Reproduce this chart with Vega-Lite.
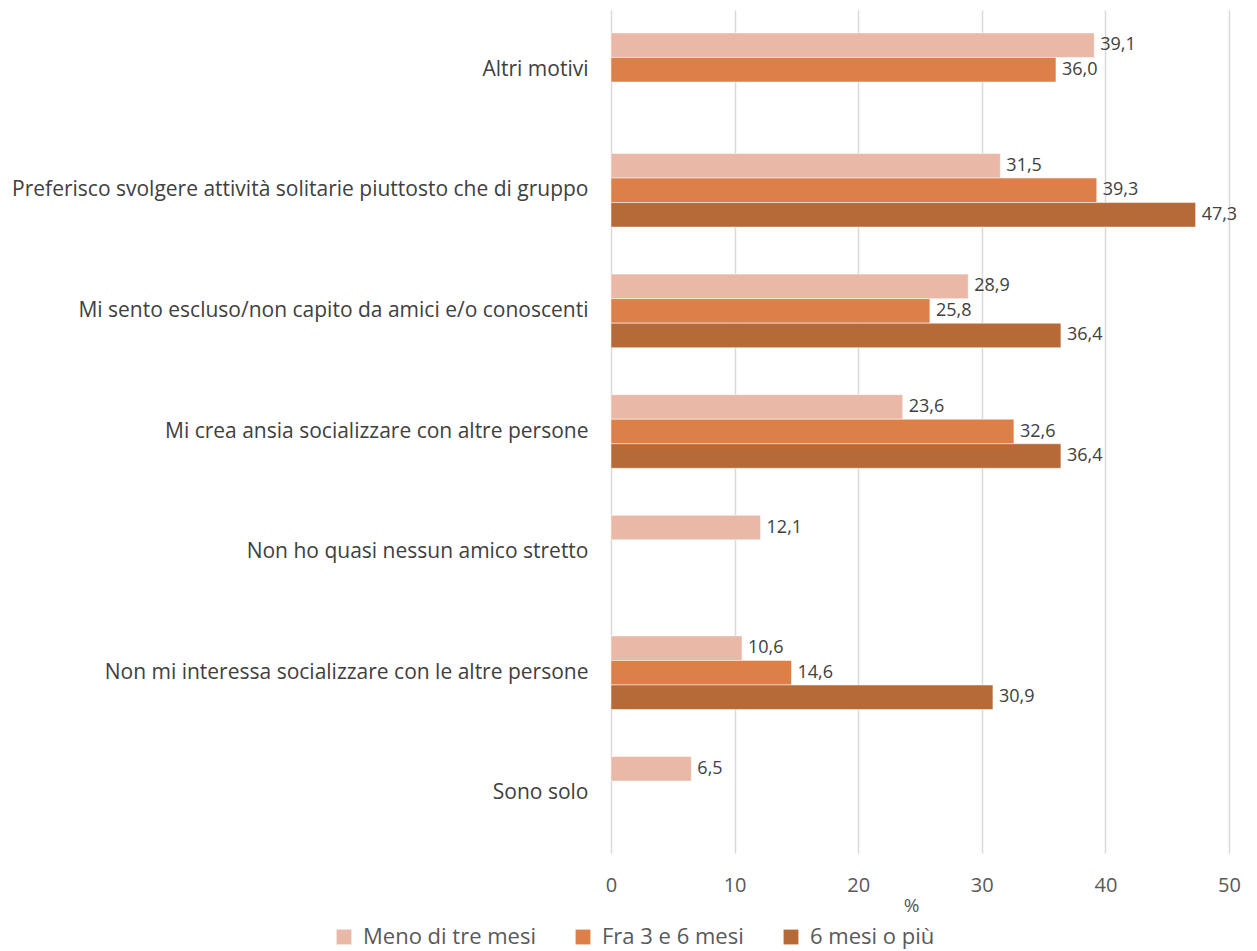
{
  "$schema": "https://vega.github.io/schema/vega-lite/v6.json",
  "width": 618,
  "height": 843,
  "autosize": {"type": "none"},
  "padding": {"left": 611, "top": 10, "right": 28, "bottom": 98},
  "background": "white",
  "config": {
    "view": {"stroke": null},
    "font": "Open Sans",
    "locale": {"number": {"decimal": ",", "thousands": ".", "grouping": [3], "currency": ["€", ""]}}
  },
  "data": {"values": [
    {"cat": "Altri motivi", "group": "Meno di tre mesi", "value": 39.1},
    {"cat": "Altri motivi", "group": "Fra 3 e 6 mesi", "value": 36.0},
    {"cat": "Preferisco svolgere attività solitarie piuttosto che di gruppo", "group": "Meno di tre mesi", "value": 31.5},
    {"cat": "Preferisco svolgere attività solitarie piuttosto che di gruppo", "group": "Fra 3 e 6 mesi", "value": 39.3},
    {"cat": "Preferisco svolgere attività solitarie piuttosto che di gruppo", "group": "6 mesi o più", "value": 47.3},
    {"cat": "Mi sento escluso/non capito da amici e/o conoscenti", "group": "Meno di tre mesi", "value": 28.9},
    {"cat": "Mi sento escluso/non capito da amici e/o conoscenti", "group": "Fra 3 e 6 mesi", "value": 25.8},
    {"cat": "Mi sento escluso/non capito da amici e/o conoscenti", "group": "6 mesi o più", "value": 36.4},
    {"cat": "Mi crea ansia socializzare con altre persone", "group": "Meno di tre mesi", "value": 23.6},
    {"cat": "Mi crea ansia socializzare con altre persone", "group": "Fra 3 e 6 mesi", "value": 32.6},
    {"cat": "Mi crea ansia socializzare con altre persone", "group": "6 mesi o più", "value": 36.4},
    {"cat": "Non ho quasi nessun amico stretto", "group": "Meno di tre mesi", "value": 12.1},
    {"cat": "Non mi interessa socializzare con le altre persone", "group": "Meno di tre mesi", "value": 10.6},
    {"cat": "Non mi interessa socializzare con le altre persone", "group": "Fra 3 e 6 mesi", "value": 14.6},
    {"cat": "Non mi interessa socializzare con le altre persone", "group": "6 mesi o più", "value": 30.9},
    {"cat": "Sono solo", "group": "Meno di tre mesi", "value": 6.5}
  ]},
  "encoding": {
    "y": {
      "field": "cat", "type": "nominal", "sort": null,
      "scale": {"domain": ["Altri motivi", "Preferisco svolgere attività solitarie piuttosto che di gruppo", "Mi sento escluso/non capito da amici e/o conoscenti", "Mi crea ansia socializzare con altre persone", "Non ho quasi nessun amico stretto", "Non mi interessa socializzare con le altre persone", "Sono solo"], "paddingInner": 0.39, "paddingOuter": 0.19},
      "axis": {"title": null, "domain": false, "ticks": false, "labelFontSize": 21, "labelColor": "#404040", "labelPadding": 23, "labelLimit": 700}
    },
    "yOffset": {
      "field": "group", "type": "nominal",
      "scale": {"domain": ["Meno di tre mesi", "Fra 3 e 6 mesi", "6 mesi o più"], "paddingInner": 0, "paddingOuter": 0}
    },
    "x": {
      "field": "value", "type": "quantitative",
      "scale": {"domain": [0, 50], "nice": false},
      "axis": {"title": "%", "titleFontSize": 19, "titleFontWeight": "normal", "titleColor": "#595959", "titlePadding": 1, "titleX": 300, "values": [0, 10, 20, 30, 40, 50], "format": "d", "labelFlush": false, "domain": false, "ticks": false, "grid": true, "gridColor": "#d9d9d9", "gridWidth": 1.5, "labelFontSize": 20, "labelColor": "#595959", "labelPadding": 22}
    }
  },
  "layer": [
    {
      "mark": {"type": "bar", "stroke": "white", "strokeWidth": 0.5},
      "encoding": {
        "color": {
          "field": "group", "type": "nominal",
          "scale": {"domain": ["Meno di tre mesi", "Fra 3 e 6 mesi", "6 mesi o più"], "range": ["#E9B8A6", "#DD7F48", "#B66A38"]},
          "legend": {"title": null, "orient": "none", "legendX": -278, "legendY": 916, "direction": "horizontal", "columns": 3, "symbolType": "square", "symbolSize": 220, "symbolStrokeWidth": 0, "labelFontSize": 22, "labelColor": "#595959", "columnPadding": 36, "labelOffset": 8, "labelLimit": 300}
        }
      }
    },
    {
      "mark": {"type": "text", "align": "left", "baseline": "middle", "dx": 6, "fontSize": 18, "color": "#404040"},
      "encoding": {
        "text": {"field": "value", "type": "quantitative", "format": ".1f"}
      }
    }
  ]
}
